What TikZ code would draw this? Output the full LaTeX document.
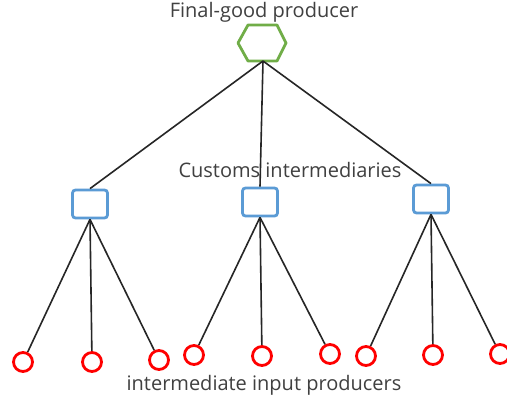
\documentclass[tikz,border=0pt]{standalone}
\usepackage{fontspec}
\setmainfont{Open Sans}
\definecolor{hexgreen}{HTML}{70AD47}
\definecolor{boxblue}{HTML}{5B9BD5}
\definecolor{dotred}{HTML}{FF0000}
\definecolor{linegrey}{HTML}{262626}
\definecolor{labelgrey}{HTML}{404040}
\begin{document}
\begin{tikzpicture}[x=1pt,y=-1pt,
  label text/.style={font=\fontsize{20}{24}\selectfont, text=labelgrey, inner sep=0pt},
  midbox/.style={draw=boxblue, line width=2.8pt, rounded corners=3pt, minimum width=35pt, minimum height=28pt, inner sep=0pt},
  leaf/.style={circle, draw=dotred, line width=2.8pt, minimum size=19pt, inner sep=0pt},
  link/.style={draw=linegrey, line width=1.6pt}]
\useasboundingbox (0,0) rectangle (507,407);
\fill[white] (0,0) rectangle (507,407);

% top producer: a hexagon wider than a regular one
\draw[hexgreen, line width=2.8pt, line join=round]
  (238,43) -- (248,25) -- (277,25) -- (286,43) -- (277,61) -- (248,61) -- cycle;
\coordinate (top) at (263,61);
\node[label text] (ttl) at (264,12) {Final-good producer};

% customs intermediaries
\node[midbox] (b1) at (90,204) {};
\node[midbox] (b2) at (260,202) {};
\node[midbox] (b3) at (431,199) {};

% input producers
\node[leaf] (c1) at (23,362) {};
\node[leaf] (c2) at (92,362) {};
\node[leaf] (c3) at (159,360) {};
\node[leaf] (c4) at (194,355) {};
\node[leaf] (c5) at (262,356) {};
\node[leaf] (c6) at (330,354) {};
\node[leaf] (c7) at (366,356) {};
\node[leaf] (c8) at (433,355) {};
\node[leaf] (c9) at (500,354) {};

% connectors
\draw[link] (top) -- (b1.north);
\draw[link] (top) -- (b2.north);
\draw[link] (top) -- (b3.north);
\foreach \b/\l in {b1/c1,b1/c2,b1/c3,b2/c4,b2/c5,b2/c6,b3/c7,b3/c8,b3/c9}
  \draw[link] (\b.south) -- (\l);

\node[label text] (mid) at (290,170) {Customs intermediaries};
\node[label text] (bot) at (264,385) {intermediate input producers};
\end{tikzpicture}
\end{document}
